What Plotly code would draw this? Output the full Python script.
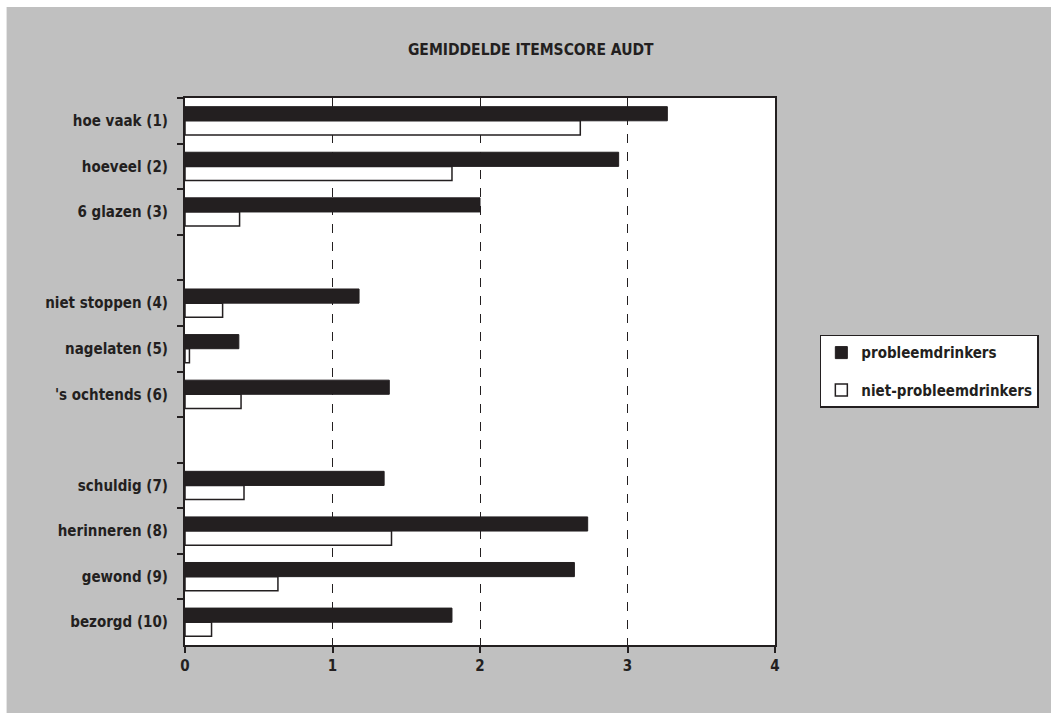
import plotly.graph_objects as go

categories = ["hoe vaak (1)", "hoeveel (2)", "6 glazen (3)", " ",
              "niet stoppen (4)", "nagelaten (5)", "'s ochtends (6)", "  ",
              "schuldig (7)", "herinneren (8)", "gewond (9)", "bezorgd (10)"]
probleem = [3.27, 2.94, 2.00, None, 1.18, 0.365, 1.385, None, 1.35, 2.73, 2.64, 1.81]
niet_probleem = [2.68, 1.81, 0.37, None, 0.255, 0.03, 0.38, None, 0.40, 1.40, 0.63, 0.18]
x_ticks = [0, 1, 2, 3, 4]
title_text = "GEMIDDELDE ITEMSCORE AUDT"

FONT = "DejaVu Sans Condensed, Liberation Sans Narrow, Arial Narrow, sans-serif"
INK = "#231f20"

fig = go.Figure()
fig.add_trace(go.Bar(y=categories, x=probleem, orientation="h", name="probleemdrinkers",
                     legendgroup="a",
                     marker=dict(color=INK, line=dict(color=INK, width=1))))
fig.add_trace(go.Bar(y=categories, x=niet_probleem, orientation="h", name="niet-probleemdrinkers",
                     legendgroup="b",
                     marker=dict(color="white", line=dict(color=INK, width=1.5))))

# grey panel; thin white border remains at top and left like the reference
fig.add_shape(type="rect", xref="paper", yref="paper",
              x0=-0.3024, x1=1.48, y0=-0.14, y1=1.1664,
              fillcolor="#c0c0c0", line=dict(width=0), layer="below")
# white plot area on top of the grey panel
fig.add_shape(type="rect", xref="paper", yref="paper",
              x0=0, x1=1, y0=0, y1=1,
              fillcolor="white", line=dict(width=0), layer="below")

fig.update_layout(
    width=1051, height=713,
    paper_bgcolor="white", plot_bgcolor="white",
    margin=dict(l=185, r=274, t=98, b=68),
    barmode="group", bargap=0.38, bargroupgap=0,
    font=dict(family=FONT, size=14, color=INK, weight="bold"),
    title=dict(text=title_text, x=0.505, xanchor="center", y=0.93, yanchor="middle",
               font=dict(family=FONT, size=15.5, color=INK, weight="bold")),
    legend=dict(x=1.076, y=0.567, xanchor="left", yanchor="top",
                bgcolor="white", bordercolor=INK, borderwidth=1.5,
                font=dict(family=FONT, size=15, color=INK, weight="bold"),
                itemwidth=30, tracegroupgap=15),
    showlegend=True,
    hovermode=False,
)
fig.update_xaxes(range=[0, 4], tickvals=x_ticks, ticktext=[str(v) for v in x_ticks],
                 showgrid=True, gridcolor=INK, griddash="dash", gridwidth=1,
                 showline=True, linecolor=INK, linewidth=2, mirror=True,
                 ticks="outside", ticklen=6, tickcolor=INK, tickwidth=2,
                 tickfont=dict(family=FONT, size=15, color=INK, weight="bold"),
                 zeroline=False, fixedrange=True)
fig.update_yaxes(autorange="reversed", type="category", tickson="boundaries",
                 showgrid=False, showline=True, linecolor=INK, linewidth=2, mirror=True,
                 ticks="outside", ticklen=6, tickcolor=INK, tickwidth=2,
                 tickfont=dict(family=FONT, size=15, color=INK, weight="bold"),
                 ticklabelstandoff=12, fixedrange=True)

fig.write_html("out.html", config={"displayModeBar": False},
               post_script="document.body.style.margin='0';document.body.style.overflow='hidden';")
